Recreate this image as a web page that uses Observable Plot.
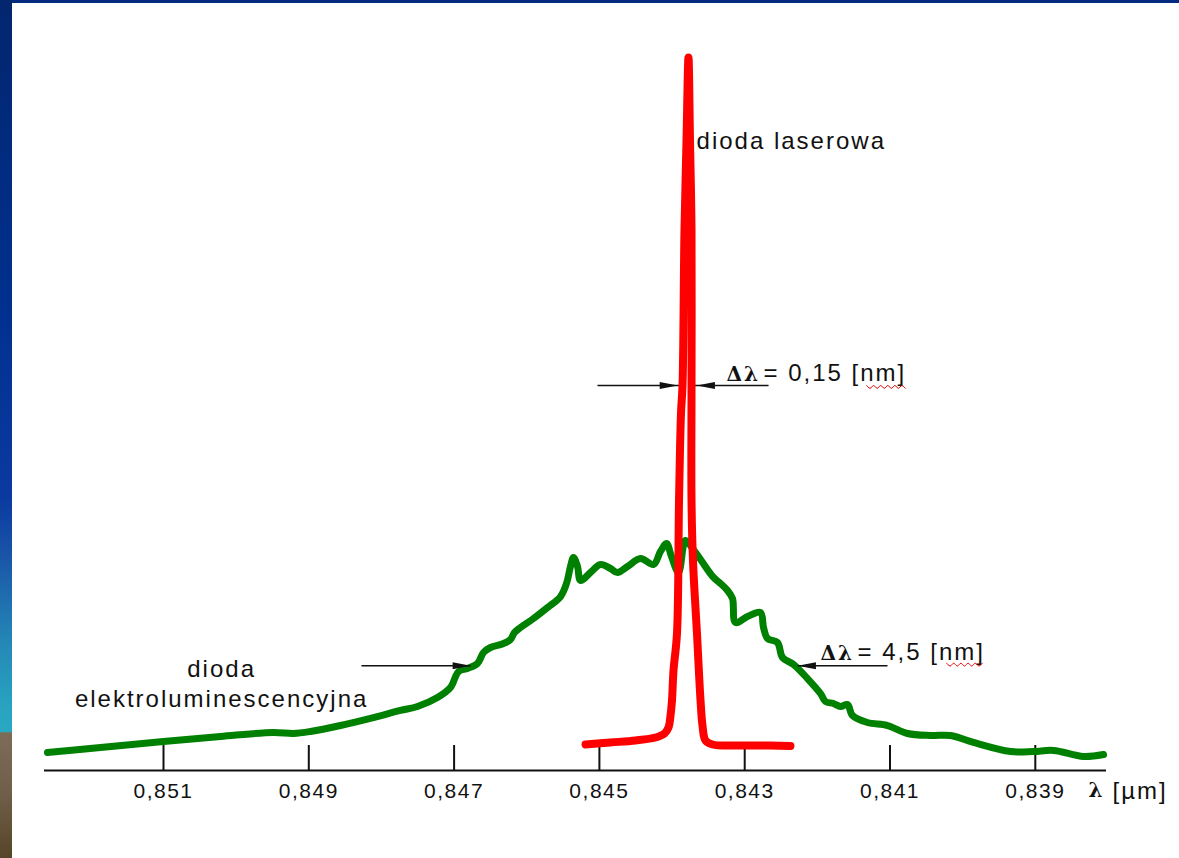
<!DOCTYPE html>
<html>
<head>
<meta charset="utf-8">
<script src="https://cdn.jsdelivr.net/npm/d3@7"></script>
<script src="https://cdn.jsdelivr.net/npm/@observablehq/plot@0.6"></script>
<style>
  html, body { margin: 0; padding: 0; background: #fff; overflow: hidden; }
  #frame { position: relative; width: 1179px; height: 858px; }
  #frame svg { display: block; }
  .band-top { position: absolute; left: 0; top: 0; width: 1179px; height: 3px; background: #022a7e; }
  .band-left {
    position: absolute; left: 0; top: 0; width: 12px; height: 858px;
    background: linear-gradient(to bottom,
      #03266e 0%, #00308e 35%, #0a3aa0 58%, #1a56a8 65%, #2488b6 75%,
      #28a2c0 82%, #2aa8c2 85.3%, #7d6c58 85.4%, #6e5d47 93%, #574529 100%);
  }
  #chart svg text { letter-spacing: 2px; }
  #chart svg g[aria-label="x-axis tick label"] text { letter-spacing: 1.5px; }
</style>
</head>
<body>
<div id="frame">
  <div id="chart"></div>
  <div class="band-top"></div>
  <div class="band-left"></div>
</div>
<script>
// Emission spectra: LED (broad) vs laser diode (narrow), wavelength in nm, relative intensity
const ledWavelengthNm = [852.597, 851.867, 851.000, 850.215, 849.486, 849.211, 848.977, 848.564, 848.109, 847.738,
  847.504, 847.229, 847.050, 846.939, 846.816, 846.678, 846.595, 846.499, 846.320, 846.224,
  846.169, 846.086, 845.907, 845.714, 845.535, 845.453, 845.398, 845.357, 845.301, 845.260,
  845.123, 844.985, 844.847, 844.751, 844.613, 844.434, 844.255, 844.159, 844.076, 844.008,
  843.911, 843.815, 843.719, 843.608, 843.429, 843.333, 843.237, 843.168, 843.127, 842.961,
  842.783, 842.741, 842.686, 842.549, 842.480, 842.328, 842.136, 841.957, 841.888, 841.778,
  841.681, 841.585, 841.516, 841.310, 841.034, 840.759, 840.443, 840.167, 839.851, 839.341,
  839.025, 838.749, 838.337, 838.061];
const ledIntensity = [2.52, 3.23, 4.07, 4.77, 5.33, 5.19, 5.47, 6.31, 7.43, 8.42,
  8.98, 10.24, 11.64, 13.88, 14.31, 15.01, 16.55, 17.25, 17.81, 18.37,
  19.35, 20.06, 21.32, 22.86, 24.40, 26.23, 28.61, 29.87, 28.61, 26.65,
  27.77, 28.89, 28.33, 27.77, 28.61, 29.73, 28.89, 30.72, 31.84, 30.01,
  27.77, 32.26, 31.14, 29.59, 27.07, 26.23, 25.25, 24.12, 20.76, 21.60,
  22.16, 20.06, 18.51, 17.95, 15.85, 14.87, 12.90, 10.80, 9.68, 9.40,
  8.98, 9.26, 7.71, 6.73, 6.31, 5.19, 4.91, 4.91, 3.93, 2.66,
  2.66, 2.81, 1.96, 2.24];

const laserWavelengthNm = [845.191, 844.847, 844.503, 844.228, 844.104, 844.049, 844.021, 844.001, 843.980, 843.932,
  843.904, 843.877, 843.856, 843.829, 843.801, 843.774, 843.753, 843.732, 843.732, 843.732,
  843.712, 843.657, 843.608, 843.581, 843.540, 843.443, 843.058, 842.645, 842.370];
const laserIntensity = [3.65, 3.93, 4.21, 4.63, 5.19, 6.03, 7.71, 9.82, 14.03, 19.21,
  37.87, 50.07, 54.0, 75.74, 88.36, 100, 88.36, 75.74, 54.0, 37.87,
  29.45, 19.21, 9.82, 6.31, 4.21, 3.65, 3.51, 3.51, 3.44];

// Axis ticks (µm) and their labels
const tickUm = [0.851, 0.849, 0.847, 0.845, 0.843, 0.841, 0.839];
const tickLabels = ["0,851", "0,849", "0,847", "0,845", "0,843", "0,841", "0,839"];

// Spectral widths (FWHM) stated on the chart
const laserFwhmNm = 0.15, laserCenterNm = 843.79, laserArrowLevel = 54.0;
const ledFwhmNm = 4.5, ledCenterNm = 844.52, ledArrowLevel = 14.7;

const um = (nm) => nm / 1000;
const led = ledWavelengthNm.map((nm, i) => ({x: um(nm), y: ledIntensity[i]}));
const laser = laserWavelengthNm.map((nm, i) => ({x: um(nm), y: laserIntensity[i]}));

// Dimension arrows: outer end → tip at center ± FWHM/2
const laserArrows = [
  {x1: um(845.026), x2: um(laserCenterNm + laserFwhmNm / 2), y: laserArrowLevel, rot: 0},
  {x1: um(842.672), x2: um(laserCenterNm - laserFwhmNm / 2), y: laserArrowLevel, rot: 180}
];
const ledArrows = [
  {x1: um(848.275), x2: um(ledCenterNm + ledFwhmNm / 2), y: ledArrowLevel, rot: 0},
  {x1: um(841.034), x2: um(ledCenterNm - ledFwhmNm / 2), y: ledArrowLevel, rot: 180}
];

// Slim filled arrowhead, tip at the anchor, pointing to +x
const arrowHead = {
  draw(ctx, size) {
    const r = Math.sqrt(size / Math.PI);
    ctx.moveTo(0, 0);
    ctx.lineTo(-2.6 * r, -0.5 * r);
    ctx.lineTo(-2.6 * r, 0.5 * r);
    ctx.closePath();
  }
};

// Text labels
const startLabels = [
  {x: um(843.663), y: 87.1, text: "dioda laserowa"},
  {x: um(842.741), y: 54.56, text: "= 0,15 [nm]"},
  {x: um(841.447), y: 15.43, text: "= 4,5 [nm]"}
];
const centerLabels = [
  {x: um(850.20), y: 8.84, text: "dioda\nelektroluminescencyjna"}
];
const deltas = [
  {x: um(843.251), y: 54.56, text: "Δλ"},
  {x: um(841.957), y: 15.43, text: "Δλ"}
];

// Spell-check style wavy underline below "nm"
function wavy(nm0, nm1, level, n) {
  const pts = [];
  for (let i = 0; i <= n; ++i) {
    pts.push({x: um(nm0 + (nm1 - nm0) * i / n), y: level + (i % 2 ? -0.2 : 0.2)});
  }
  return pts;
}
const squiggles = [
  ...wavy(841.323, 840.787, 53.8, 11).map(d => ({...d, k: "a"})),
  ...wavy(840.222, 839.727, 14.85, 10).map(d => ({...d, k: "b"}))
];

const ink = "#111";
const sans = "'Liberation Sans', Arial, sans-serif";
const serif = "'DejaVu Serif', 'Liberation Serif', serif";

const chart = Plot.plot({
  width: 1179,
  height: 858,
  marginLeft: 44,
  marginRight: 73,
  marginTop: 57,
  marginBottom: 88,
  style: {background: "white", fontFamily: sans, fontSize: "21px", color: ink},
  x: {domain: [0.852638, 0.838020]},
  y: {domain: [0, 100], axis: null},
  marks: [
    Plot.ruleY([0], {stroke: ink, strokeWidth: 2}),
    Plot.ruleX(tickUm, {stroke: ink, strokeWidth: 2, insetTop: 688}),
    Plot.axisX(tickUm, {
      tickSize: 0, tickPadding: 13, fontSize: 21,
      tickFormat: (d) => tickLabels[tickUm.indexOf(d)]
    }),
    Plot.text(["λ"], {frameAnchor: "bottom-right", dx: -18, dy: 26, text: d => d, textAnchor: "start", lineAnchor: "bottom", fontFamily: serif, fontWeight: "bold", fontSize: 20, fill: ink}),
    Plot.text(["[µm]"], {frameAnchor: "bottom-right", dx: 6, dy: 28, text: d => d, textAnchor: "start", lineAnchor: "bottom", fontSize: 24, fill: ink}),

    Plot.line(led, {x: "x", y: "y", stroke: "#008000", strokeWidth: 7, curve: "catmull-rom", strokeLinejoin: "round", strokeLinecap: "round"}),

    Plot.link([...laserArrows, ...ledArrows], {x1: "x1", x2: "x2", y1: "y", y2: "y", stroke: ink, strokeWidth: 1.6}),
    Plot.dot(laserArrows.filter(d => d.rot === 0), {x: "x2", y: "y", symbol: arrowHead, r: 7, fill: ink, stroke: "none", dx: -4}),
    Plot.dot(laserArrows.filter(d => d.rot === 180), {x: "x2", y: "y", symbol: arrowHead, r: 7, fill: ink, stroke: "none", dx: 4, rotate: 180}),
    Plot.dot(ledArrows, {x: "x2", y: "y", symbol: arrowHead, r: 7, fill: ink, stroke: "none", rotate: "rot"}),

    Plot.line(laser, {x: "x", y: "y", stroke: "#ff0000", strokeWidth: 8, curve: "catmull-rom", strokeLinejoin: "round", strokeLinecap: "round"}),

    Plot.text(startLabels, {x: "x", y: "y", text: "text", textAnchor: "start", lineAnchor: "bottom", fontSize: 24, fill: ink}),
    Plot.text(centerLabels, {x: "x", y: "y", text: "text", textAnchor: "middle", lineAnchor: "bottom", lineHeight: 1.29, fontSize: 24, fill: ink}),
    Plot.text(deltas, {x: "x", y: "y", text: "text", textAnchor: "start", lineAnchor: "bottom", fontFamily: serif, fontWeight: "bold", fontSize: 20, fill: ink}),
    Plot.line(squiggles, {x: "x", y: "y", z: "k", stroke: "#e00000", strokeWidth: 1, curve: "catmull-rom"})
  ]
});

document.getElementById("chart").appendChild(chart);
</script>
</body>
</html>
